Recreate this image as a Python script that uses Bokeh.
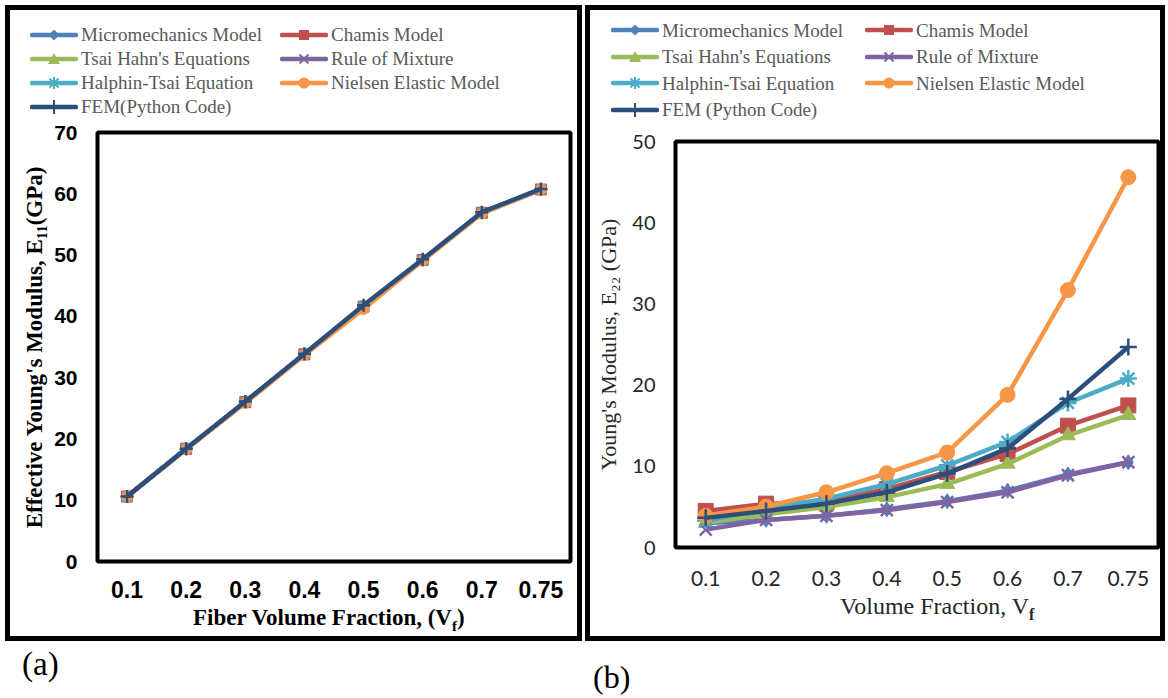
from bokeh.plotting import figure
from bokeh.models import FactorRange, Range1d, FixedTicker, Div
from bokeh.layouts import row, column
from bokeh.embed import file_html
from bokeh.resources import INLINE

vf = ["0.1", "0.2", "0.3", "0.4", "0.5", "0.6", "0.7", "0.75"]

# ---- panel (a): longitudinal modulus E11 (GPa)
e11_micro   = [10.6, 18.4, 26.0, 33.8, 41.6, 49.2, 56.9, 60.7]
e11_chamis  = [10.6, 18.4, 26.0, 33.8, 41.6, 49.2, 56.9, 60.7]
e11_tsai    = [10.6, 18.4, 26.0, 33.8, 41.6, 49.2, 56.9, 60.7]
e11_rom     = [10.6, 18.4, 26.0, 33.8, 41.6, 49.2, 56.9, 60.7]
e11_halphin = [10.6, 18.4, 26.0, 33.8, 41.6, 49.2, 56.9, 60.7]
e11_nielsen = [10.6, 18.3, 25.9, 33.7, 41.2, 49.1, 56.8, 60.7]
e11_fem     = [10.6, 18.4, 26.1, 33.9, 41.8, 49.3, 57.0, 60.8]

# ---- panel (b): transverse modulus E22 (GPa)
e22_micro   = [3.0, 3.4, 3.9, 4.7, 5.7, 7.0, 9.0, 10.5]
e22_chamis  = [4.5, 5.4, 5.6, 7.2, 9.3, 11.5, 15.0, 17.5]
e22_tsai    = [3.0, 4.1, 5.0, 6.2, 7.8, 10.3, 13.8, 16.3]
e22_rom     = [2.2, 3.4, 3.9, 4.6, 5.6, 6.8, 8.9, 10.5]
e22_halphin = [3.3, 4.8, 6.0, 7.8, 10.1, 13.0, 17.8, 20.8]
e22_nielsen = [3.9, 5.05, 6.8, 9.15, 11.7, 18.8, 31.7, 45.6]
e22_fem     = [3.65, 4.5, 5.4, 6.8, 9.1, 12.2, 18.3, 24.7]

names_a = ["Micromechanics Model", "Chamis Model", "Tsai Hahn's Equations", "Rule of Mixture",
           "Halphin-Tsai Equation", "Nielsen Elastic Model", "FEM(Python Code)"]
names_b = ["Micromechanics Model", "Chamis Model", "Tsai Hahn's Equations", "Rule of Mixture",
           "Halphin-Tsai Equation", "Nielsen Elastic Model", "FEM (Python Code)"]
colors = ["#4F81BD", "#C0504D", "#9BBB59", "#8064A2", "#4BACC6", "#F79646", "#2C4E7A"]
markers = ["diamond", "square", "triangle", "x", "asterisk", "circle", "cross"]

data_a = [e11_micro, e11_chamis, e11_tsai, e11_rom, e11_halphin, e11_nielsen, e11_fem]
data_b = [e22_micro, e22_chamis, e22_tsai, e22_rom, e22_halphin, e22_nielsen, e22_fem]


def add_series(p, data, msize):
    for vals, col, mk in zip(data, colors, markers):
        p.line(vf, vals, line_color=col, line_width=4.5)
        line_only = mk in ("x", "asterisk", "cross")
        p.scatter(vf, vals, marker=mk, size=msize + (2 if line_only else 0),
                  fill_color=col, line_color=col, line_width=2.5 if line_only else 1)


def sample_svg(col, mk):
    parts = ['<line x1="2" y1="12" x2="46" y2="12" stroke="%s" stroke-width="4.5" '
             'stroke-linecap="round"/>' % col]
    st = 'stroke="%s" stroke-width="2"' % col
    if mk == "diamond":
        parts.append('<polygon points="24,6.5 29.5,12 24,17.5 18.5,12" fill="%s"/>' % col)
    elif mk == "square":
        parts.append('<rect x="19" y="7" width="10" height="10" fill="%s"/>' % col)
    elif mk == "triangle":
        parts.append('<polygon points="24,6 30,17 18,17" fill="%s"/>' % col)
    elif mk == "x":
        parts.append('<line x1="19.5" y1="7.5" x2="28.5" y2="16.5" %s/>'
                     '<line x1="19.5" y1="16.5" x2="28.5" y2="7.5" %s/>' % (st, st))
    elif mk == "asterisk":
        parts.append('<line x1="19.5" y1="7.5" x2="28.5" y2="16.5" %s/>'
                     '<line x1="19.5" y1="16.5" x2="28.5" y2="7.5" %s/>'
                     '<line x1="24" y1="6" x2="24" y2="18" %s/>' % (st, st, st))
    elif mk == "circle":
        parts.append('<circle cx="24" cy="12" r="5.5" fill="%s"/>' % col)
    elif mk == "cross":
        parts.append('<line x1="24" y1="5" x2="24" y2="19" %s/>' % st)
    return ('<svg width="48" height="24" style="flex:none">%s</svg>' % "".join(parts))


def legend_div(names, width, height, pad_left, pad_top, col_w, row_h):
    cells = []
    for name, col, mk in zip(names, colors, markers):
        cells.append('<div style="display:flex;align-items:center;height:%spx">%s'
                     '<span style="margin-left:3px;white-space:nowrap">%s</span></div>'
                     % (row_h, sample_svg(col, mk), name))
    html = ('<div style="display:grid;grid-template-columns:%dpx %dpx;'
            'grid-auto-rows:%spx">%s</div>' % (col_w, col_w, row_h, "".join(cells)))
    return Div(text=html, width=width, height=height, margin=0,
               styles={"font-family": "Liberation Serif", "font-size": "19px",
                       "color": "#595959", "padding-left": "%dpx" % pad_left,
                       "padding-top": "%dpx" % pad_top, "box-sizing": "border-box",
                       "background": "white"})


def style_axes(p, font, style, xsize, ysize, color):
    for ax, size in ((p.xaxis[0], xsize), (p.yaxis[0], ysize)):
        ax.axis_line_color = None
        ax.major_tick_line_color = None
        ax.minor_tick_line_color = None
        ax.major_tick_out = 0
        ax.major_tick_in = 0
        ax.major_label_text_font = font
        ax.major_label_text_font_style = style
        ax.major_label_text_font_size = size
        ax.major_label_text_color = color
        ax.major_label_standoff = 20


# ================= panel (a)
leg_a = legend_div(names_a, 567, 108, 20, 13, 250, 24)

p1 = figure(width=567, height=490, x_range=FactorRange(*vf), y_range=Range1d(0, 70),
            output_backend="svg", toolbar_location=None,
            min_border_left=87, min_border_right=7, min_border_top=14, min_border_bottom=47,
            outline_line_color="black", outline_line_width=4)
p1.xgrid.visible = False
p1.ygrid.visible = False
add_series(p1, data_a, 11)
p1.yaxis.ticker = FixedTicker(ticks=[0, 10, 20, 30, 40, 50, 60, 70])
style_axes(p1, "Liberation Sans", "bold", "23px", "21px", "black")
p1.xaxis.major_label_standoff = 19
p1.yaxis.axis_label = "Effective Young's Modulus, E\u2081\u2081(GPa)"
p1.yaxis.axis_label_text_font = "Liberation Serif"
p1.yaxis.axis_label_text_font_style = "bold"
p1.yaxis.axis_label_text_font_size = "23px"
p1.yaxis.axis_label_text_color = "black"
p1.yaxis.axis_label_standoff = 4

xt_a = Div(text="Fiber Volume Fraction, (V<sub style='font-size:15px'>f</sub>)",
           width=567, height=28, margin=0,
           styles={"font-family": "Liberation Serif", "font-weight": "bold",
                   "font-size": "23px", "line-height": "20px", "color": "black",
                   "padding-left": "183px", "box-sizing": "border-box",
                   "white-space": "nowrap", "background": "white"})
box_a = column(leg_a, p1, xt_a, spacing=0,
               styles={"border": "5px solid black", "background": "white"})
lab_a = Div(text="(a)", width=300, height=52, margin=0,
            styles={"font-family": "Liberation Serif", "font-size": "33px",
                    "line-height": "33px", "color": "black", "padding-left": "17px",
                    "padding-top": "7px", "box-sizing": "border-box"})
col_a = column(box_a, lab_a, spacing=0, margin=(5, 3, 0, 5))

# ================= panel (b)
leg_b = legend_div(names_b, 570, 112, 21, 7, 254, 26.5)

p2 = figure(width=570, height=474, x_range=FactorRange(*vf), y_range=Range1d(0, 50),
            output_backend="svg", toolbar_location=None,
            min_border_left=85, min_border_right=2, min_border_top=19, min_border_bottom=49,
            outline_line_color="black", outline_line_width=4)
p2.xgrid.visible = False
p2.ygrid.visible = False
add_series(p2, data_b, 15)
p2.yaxis.ticker = FixedTicker(ticks=[0, 10, 20, 30, 40, 50])
style_axes(p2, "Lato", "normal", "21px", "20px", "#262626")
p2.xaxis.major_label_standoff = 23
p2.yaxis.axis_label = "Young's Modulus, E\u2082\u2082 (GPa)"
p2.yaxis.axis_label_text_font = "Liberation Serif"
p2.yaxis.axis_label_text_font_style = "normal"
p2.yaxis.axis_label_text_font_size = "22px"
p2.yaxis.axis_label_text_color = "#262626"
p2.yaxis.axis_label_standoff = 8

xt_b = Div(text="Volume Fraction, V<sub style='font-size:16px;font-weight:bold'>f</sub>",
           width=570, height=40, margin=0,
           styles={"font-family": "Liberation Serif", "font-size": "24px",
                   "line-height": "20px", "color": "#262626",
                   "padding-left": "250px", "box-sizing": "border-box",
                   "white-space": "nowrap", "background": "white"})
box_b = column(leg_b, p2, xt_b, spacing=0,
               styles={"border": "5px solid black", "background": "white"})
lab_b = Div(text="(b)", width=300, height=52, margin=0,
            styles={"font-family": "Liberation Serif", "font-size": "32px",
                    "line-height": "32px", "color": "black", "padding-left": "8px",
                    "padding-top": "20px", "box-sizing": "border-box"})
col_b = column(box_b, lab_b, spacing=0, margin=(5, 0, 0, 0))

layout = row(col_a, col_b, spacing=0)
open("out.html", "w").write(file_html(layout, INLINE))
